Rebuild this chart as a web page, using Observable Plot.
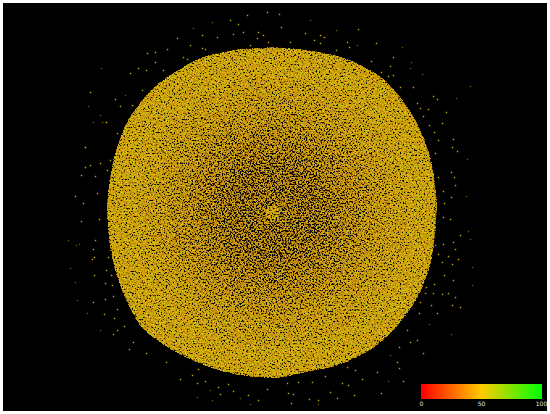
<!DOCTYPE html>
<html><head><meta charset="utf-8">
<style>html,body{margin:0;padding:0;background:#fff}svg{display:block}</style>
<script src="https://cdn.jsdelivr.net/npm/d3@7"></script>
<script src="https://cdn.jsdelivr.net/npm/@observablehq/plot@0.6"></script>
</head><body><div id="chart"></div>
<script>
// Picture-unit readings (x, y as seen in the reference)
const outlineX=[275,233,200,173,153,140,128,117,110,107,110,117,128,143,167,200,233,275,308,342,375,400,418,430,435,437,437,432,422,405,385,365,342,308,275];
const outlineY=[47,50,58,73,88,103,120,147,177,207,247,277,304,329,347,364,374,378,372,364,347,323,297,267,240,207,200,163,133,103,80,67,57,50,47];
const ringRadius=[135,118,102,88,74,60,46,32,20,7];
const ringDensity=[.97,.94,.91,.88,.85,.82,.8,.8,.82,.97];
const centerX=[272], centerY=[212];
const brightX=[90,115,106,85,90,85,81,95,100,75,83,97,107,110,117,120,132,130,138,146,147,155,167,155,163,142,177,190,202,217,202,230,238,233,247,267,258,250,263,268,243,257,183,187,205,279,281,305,358,314,320,320,324,290,347,376,349,336,371,393,390,381,393,388,400,413,437,433,446,417,420,428,423,429,442,434,438,453,452,457,435,451,454,455,443,451,444,438,81,99,95,93,94,92,108,106,94,111,105,112,93,105,113,104,117,114,117,124,113,129,146,133,166,180,198,192,197,205,218,220,233,248,258,228,267,450,443,460,453,443,455,435,438,448,458,442,452,444,453,434,426,425,433,442,448,455,452,460,431,420,419,437,407,417,410,399,423,399,397,377,347,355,362,403,342,348,325,287,298,312,330,337,318,309,288,293,291,354,381];
const brightY=[92,99,122,147,165,167,175,176,163,196,203,193,170,160,133,106,105,73,68,70,53,52,49,62,70,90,38,45,35,37,48,20,24,34,15,12,32,45,35,42,32,38,57,59,49,14,27,33,29,40,35,43,37,42,42,43,47,50,61,57,66,72,75,76,87,87,99,96,112,103,108,109,116,125,123,132,140,139,147,151,153,172,177,185,191,197,203,177,221,219,240,249,257,259,257,270,275,275,283,285,302,299,296,314,309,318,330,326,334,349,353,342,362,379,369,375,383,381,387,394,391,395,400,384,389,219,217,235,242,244,249,245,254,256,259,262,264,275,280,284,287,293,293,294,293,297,305,307,305,302,313,313,330,340,342,347,353,368,362,372,367,370,379,381,383,385,376,383,382,382,392,398,400,399,393,394,403,395,393];
const dimX=[101,88,100,93,102,106,85,125,193,212,310,336,357,402,411,410,422,470,456,467,466,68,76,79,70,75,77,87,100,197,210,212,240,250,468,470,472,472,429,451,390,388,318];
const dimY=[68,106,115,122,122,122,147,95,28,22,20,30,45,47,62,68,74,86,98,159,196,240,245,244,268,282,300,313,330,397,390,400,398,404,231,239,267,285,324,334,355,381,404];
const legendTicks=[0,50,100];
const legendColors=["#ff0000","#ffcc00","#00ff00"];
const strayValue=52;

const zip=(xs,ys,extra={})=>xs.map((x,i)=>({x,y:ys[i],...extra}));
const disc=outlineX.map((x,i)=>({x1:centerX[0],y1:centerY[0],x2:x,y2:outlineY[i]}));
const rings=ringRadius.map((radius,i)=>{const g=Math.round(ringDensity[i]*255);
  return {x:centerX[0],y:centerY[0],radius,shade:`rgb(${g},${g},${g})`};});
const legendLeft=421,legendPerUnit=1.2,legendTop=384,legendBottom=399,labelY=404;
const legendSteps=d3.range(0,100);

const chart=Plot.plot({
  width:550,height:414,margin:0,
  x:{domain:[0,550],axis:null},
  y:{domain:[414,0],axis:null},
  r:{type:"identity"},
  color:{domain:[0,50,100],range:legendColors,type:"linear"},
  style:{background:"#fff"},
  marks:[
    Plot.rect([{}],{x1:()=>3,x2:()=>547,y1:()=>3,y2:()=>411,fill:"#000"}),
    Plot.dot(zip(dimX,dimY,{v:strayValue}),{x:"x",y:"y",r:()=>0.8,fill:"v",fillOpacity:0.4,symbol:"square"}),
    Plot.dot(zip(brightX,brightY,{v:strayValue}),{x:"x",y:"y",r:()=>0.8,fill:"v",fillOpacity:0.8,symbol:"square"}),
    Plot.area(disc,{x1:"x1",y1:"y1",x2:"x2",y2:"y2",fill:"#fff",curve:"catmull-rom"}),
    Plot.dot(rings,{x:"x",y:"y",r:"radius",fill:"shade"}),
    Plot.rect(legendSteps,{x1:d=>legendLeft+d*legendPerUnit,x2:d=>legendLeft+(d+1)*legendPerUnit+1,y1:()=>legendTop,y2:()=>legendBottom,fill:d=>d}),
    Plot.text(legendTicks,{x:d=>legendLeft+d*legendPerUnit,y:()=>labelY,text:d=>String(d),fill:"#e6e6e6",fontSize:6,fontFamily:"DejaVu Sans"})
  ]
});

// Speckle texture for the undrawable dense interior (a rendering style, not data).
const NS="http://www.w3.org/2000/svg";
const defs=document.createElementNS(NS,"defs");
defs.innerHTML=`<filter id="speck" filterUnits="userSpaceOnUse" x="0" y="0" width="550" height="414" color-interpolation-filters="sRGB">
<feTurbulence type="fractalNoise" baseFrequency="0.62" numOctaves="2" seed="7" result="t"/>
<feColorMatrix in="t" type="matrix" values="1 0 0 0 0 1 0 0 0 0 1 0 0 0 0 0 0 0 0 1" result="n"/>
<feComposite in="n" in2="SourceGraphic" operator="arithmetic" k1="0" k2="2.4" k3="1.6" k4="-2.12" result="v"/>
<feComponentTransfer in="v" result="p">
<feFuncR type="discrete" tableValues="0 0 .28 .52 .68 .76 .79 .80 .82 .88 .78"/>
<feFuncG type="discrete" tableValues="0 0 .17 .36 .49 .56 .59 .60 .64 .72 .76"/>
<feFuncB type="discrete" tableValues="0 0 .01 .03 .05 .05 .05 .05 .05 .03 .05"/>
</feComponentTransfer>
<feDisplacementMap in="SourceAlpha" in2="t" scale="6" xChannelSelector="R" yChannelSelector="G" result="rough"/>
<feComposite in="p" in2="rough" operator="in" result="m"/>
<feGaussianBlur in="m" stdDeviation="0.4"/>
</filter>`;
chart.insertBefore(defs,chart.firstChild);
const a=chart.querySelector('[aria-label="area"]');
const dots=chart.querySelectorAll('[aria-label="dot"]');
const b=dots[dots.length-1];
const g=document.createElementNS(NS,"g");
g.setAttribute("filter","url(#speck)");
a.parentNode.insertBefore(g,a);g.appendChild(a);g.appendChild(b);
document.getElementById("chart").appendChild(chart);
</script></body></html>
